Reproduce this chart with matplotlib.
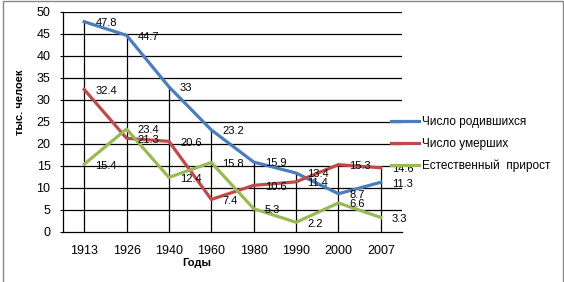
import matplotlib.pyplot as plt
from matplotlib.patches import Rectangle

years = ["1913", "1926", "1940", "1960", "1980", "1990", "2000", "2007"]
births = [47.8, 44.7, 33, 23.2, 15.9, 13.4, 8.7, 11.3]
deaths = [32.4, 21.3, 20.6, 7.4, 10.6, 11.4, 15.3, 14.6]
growth = [15.4, 23.4, 12.4, 15.8, 5.3, 2.2, 6.6, 3.3]

series = [
    ("Число родившихся", births, "#4a7ebb"),
    ("Число умерших", deaths, "#be4b48"),
    ("Естественный  прирост", growth, "#98b954"),
]

plt.rcParams['font.family'] = ['Liberation Sans', 'DejaVu Sans']

fig = plt.figure(figsize=(5.64, 2.82), dpi=100)
ax = fig.add_axes([63 / 564, 50 / 282, 339 / 564, 220 / 282])

x = list(range(len(years)))

# horizontal grid + drop lines from the top series
for v in range(5, 55, 5):
    ax.axhline(v, color="black", lw=0.9, zorder=1)
tops = [max(b, d, g) for b, d, g in zip(births, deaths, growth)]
ax.vlines(x, 0, tops, color="black", lw=0.9, zorder=1)

handles = []
for name, vals, col in series:
    h, = ax.plot(x, vals, color=col, lw=2.3, label=name, zorder=3)
    handles.append(h)
    for xi, v in zip(x, vals):
        ax.annotate(f"{v:g}", (xi, v), xytext=(8, -1), textcoords="offset points",
                    ha="left", va="center", fontsize=8, zorder=4)

ax.set_xlim(-0.5, len(years) - 0.5)
ax.set_ylim(0, 50)
ax.set_yticks(range(0, 55, 5))
ax.set_xticks(x)
ax.set_xticklabels(years)
ax.tick_params(axis="x", length=0, pad=9, labelsize=9)
ax.tick_params(axis="y", length=2, pad=7, labelsize=9, direction="out")
for s in ["top", "right"]:
    ax.spines[s].set_visible(False)
for s in ["left", "bottom"]:
    ax.spines[s].set_color("black")
    ax.spines[s].set_linewidth(0.9)

fig.text(20 / 564, 1 - 102 / 282, "тыс. челоек", rotation=90, ha="center", va="center",
         fontsize=8, fontweight="bold")
fig.text(197 / 564, 1 - 263 / 282, "Годы", ha="center", va="center",
         fontsize=8, fontweight="bold")

fig.legend(handles=handles, loc="center left", bbox_to_anchor=(391 / 564, 1 - 144 / 282),
           frameon=False, fontsize=8.5, handlelength=2.4, handletextpad=0.2,
           labelspacing=0.8, borderpad=0, borderaxespad=0)

fig.patches.append(Rectangle((2.5 / 564, -0.1), 560.5 / 564, 1.1 - 1 / 282,
                             transform=fig.transFigure, fill=False,
                             edgecolor="#888888", lw=1))

fig.savefig("out.png", dpi=100)
